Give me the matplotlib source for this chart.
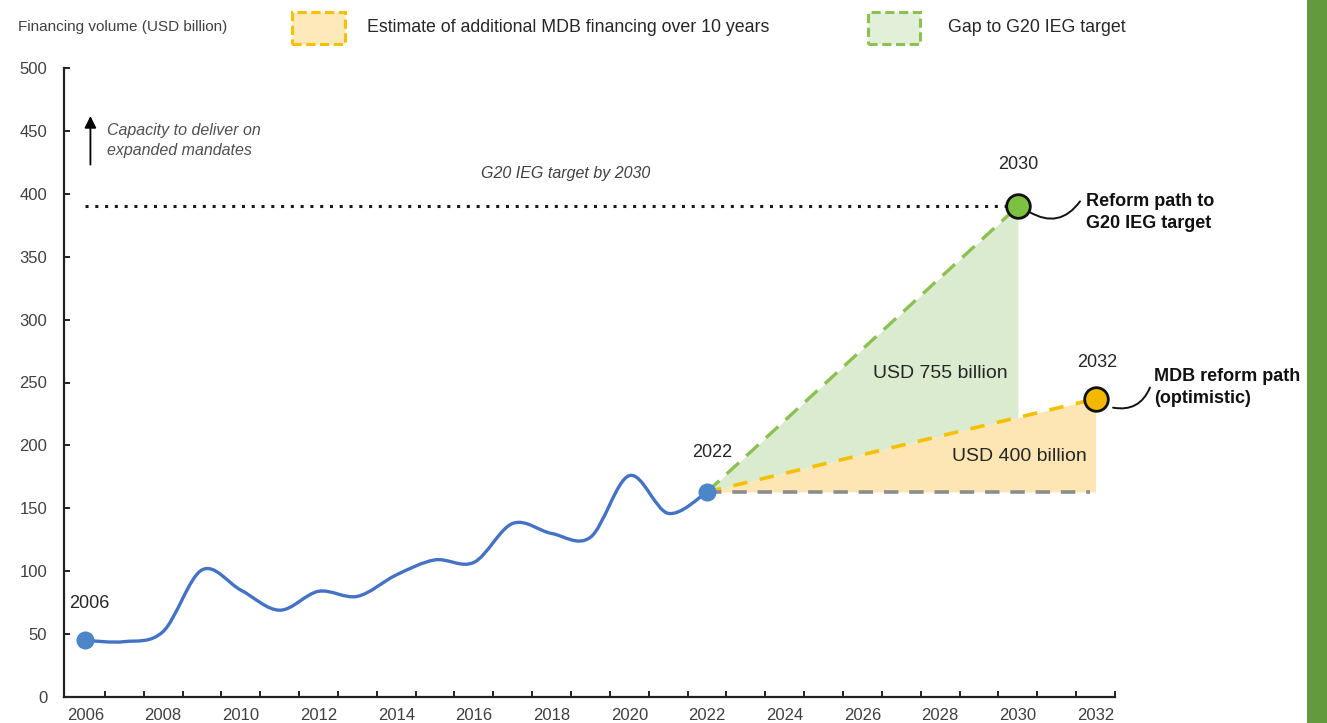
import numpy as np
import matplotlib
matplotlib.use("Agg")
import matplotlib.pyplot as plt
from matplotlib.path import Path
from matplotlib.patches import PathPatch, Rectangle

# historical MDB financing volume (USD billion)
years = list(range(2006, 2023))
financing = [45, 44, 52, 101, 85, 69, 84, 80, 97, 109, 107, 138, 130, 127, 176, 146, 163]

# projected paths
g20_years = [2022, 2030]
g20_values = [163, 390]
mdb_years = [2022, 2032]
mdb_values = [163, 237]
baseline = 163
g20_target = 390

x_tick_years = list(range(2006, 2033, 2))
y_ticks = list(range(0, 501, 50))

FONT = ["Liberation Sans Narrow", "Liberation Sans", "DejaVu Sans"]
plt.rcParams["font.family"] = FONT

BLUE = "#4472c4"
GREEN = "#8cc152"
GREEN_FILL = "#dbebcf"
YELLOW = "#f5c000"
YELLOW_FILL = "#fde6b4"
GREY = "#8c8c8c"
TXT = "#404040"


def smooth_path(xs, ys):
    """Catmull-Rom style cubic bezier path through the points (like Excel smoothed line)."""
    pts = np.column_stack([xs, ys]).astype(float)
    ext = np.vstack([pts[0], pts, pts[-1]])
    verts = [pts[0]]
    codes = [Path.MOVETO]
    for i in range(len(pts) - 1):
        p0, p1, p2, p3 = ext[i], ext[i + 1], ext[i + 2], ext[i + 3]
        c1 = p1 + (p2 - p0) / 6.0
        c2 = p2 - (p3 - p1) / 6.0
        verts += [c1, c2, p2]
        codes += [Path.CURVE4] * 3
    return Path(verts, codes)


fig = plt.figure(figsize=(13.27, 7.23), dpi=100)
ax = fig.add_axes([64 / 1327, 1 - 697 / 723, (1115 - 64) / 1327, (697 - 68) / 723])

ax.set_xlim(2005.45, 2032.5)
ax.set_ylim(0, 500)

# shaded areas
mdb_at_2030 = np.interp(g20_years, mdb_years, mdb_values)
ax.fill_between(g20_years, mdb_at_2030, g20_values, color=GREEN_FILL, lw=0, zorder=1)
ax.fill_between(mdb_years, [baseline, baseline], mdb_values, color=YELLOW_FILL, lw=0, zorder=1)

# target line and projected paths
ax.hlines(g20_target, 2006, g20_years[-1], colors="#1a1a1a", linestyles=(0, (1, 2.2)), lw=2.2, zorder=2)
ax.plot(g20_years, g20_values, color=GREEN, lw=2.4, dashes=(5, 3), zorder=3)
ax.plot(mdb_years, mdb_values, color=YELLOW, lw=2.6, dashes=(4, 3.5), zorder=3)
ax.plot([mdb_years[0], mdb_years[-1] - 0.15], [baseline, baseline], color=GREY, lw=2.6, dashes=(4, 3), zorder=3)

# historical smoothed line
ax.add_patch(PathPatch(smooth_path(years, financing), facecolor="none", edgecolor=BLUE, lw=2.4, zorder=4))
ax.plot([years[0], years[-1]], [financing[0], financing[-1]], "o", color="#4a86c8", ms=13, mec="none", zorder=5)

ax.plot(g20_years[-1], g20_values[-1], "o", color="#7dc142", ms=17, mec="#111111", mew=2.0, zorder=6)
ax.plot(mdb_years[-1], mdb_values[-1], "o", color="#f5b800", ms=17, mec="#111111", mew=2.0, zorder=6)

# axes styling
for s in ["top", "right"]:
    ax.spines[s].set_visible(False)
for s in ["left", "bottom"]:
    ax.spines[s].set_linewidth(1.6)
    ax.spines[s].set_color("#222222")

ax.set_xticks(x_tick_years)
ax.set_xticklabels([str(y) for y in x_tick_years])
ax.set_xticks(np.arange(2006.5, 2033, 1.0), minor=True)
ax.tick_params(axis="x", which="major", length=0, pad=8, labelsize=12, labelcolor=TXT)
ax.tick_params(axis="x", which="minor", length=4, width=1.4, direction="in", color="#222222")
ax.set_yticks(y_ticks)
ax.tick_params(axis="y", length=4, width=1.4, direction="in", pad=12, labelsize=12,
               labelcolor=TXT, color="#222222")

# annotations
ax.text(2006.1, 74, "2006", ha="center", va="center", fontsize=13, color="#262626")
ax.text(2022.13, 194, "2022", ha="center", va="center", fontsize=13, color="#262626")
ax.text(2030, 423, "2030", ha="center", va="center", fontsize=13, color="#262626")
ax.text(2032.03, 266, "2032", ha="center", va="center", fontsize=13, color="#262626")

ax.text(2028.0, 257.5, "USD 755 billion", ha="center", va="center", fontsize=14, color="#262626")
ax.text(2030.05, 191, "USD 400 billion", ha="center", va="center", fontsize=14, color="#262626")

ax.text(2018.35, 416.5, "G20 IEG target by 2030", ha="center", va="center", fontsize=11.5,
        style="italic", color="#404040")

ax.annotate("", xy=(2006.13, 464), xytext=(2006.13, 421),
            arrowprops=dict(arrowstyle="-|>,head_width=0.35,head_length=0.7", color="black", lw=1.3))
ax.text(2006.55, 456, "Capacity to deliver on\nexpanded mandates", ha="left", va="top", fontsize=11.5,
        style="italic", color="#505050", linespacing=1.35)

ax.text(2031.75, 385, "Reform path to\nG20 IEG target", ha="left", va="center", fontsize=13,
        fontweight="bold", color="#111111", linespacing=1.35)
ax.text(2033.5, 246, "MDB reform path\n(optimistic)", ha="left", va="center", fontsize=13,
        fontweight="bold", color="#111111", linespacing=1.35, clip_on=False)

ax.annotate("", xy=(2031.6, 394), xytext=(2030.3, 385.5), annotation_clip=False,
            arrowprops=dict(arrowstyle="-", color="#111111", lw=1.4, shrinkA=0, shrinkB=0,
                            connectionstyle="arc3,rad=0.45"))
ax.annotate("", xy=(2033.4, 246), xytext=(2032.45, 230), annotation_clip=False,
            arrowprops=dict(arrowstyle="-", color="#111111", lw=1.4, shrinkA=0, shrinkB=0,
                            connectionstyle="arc3,rad=0.4"))

# header and legend
fig.text(18 / 1327, 1 - 27 / 723, "Financing volume (USD billion)", ha="left", va="center",
         fontsize=11, color=TXT)

fig.add_artist(Rectangle((292 / 1327, 1 - 44 / 723), 53 / 1327, 32 / 723, transform=fig.transFigure,
                         facecolor="#fde9b9", edgecolor=YELLOW, lw=2.2, linestyle=(0, (3, 1.5))))
fig.text(367 / 1327, 1 - 28 / 723, "Estimate of additional MDB financing over 10 years", ha="left",
         va="center", fontsize=12.8, color="#262626")
fig.add_artist(Rectangle((868 / 1327, 1 - 44 / 723), 52 / 1327, 32 / 723, transform=fig.transFigure,
                         facecolor="#e2efd9", edgecolor=GREEN, lw=2.2, linestyle=(0, (3, 1.5))))
fig.text(948 / 1327, 1 - 28 / 723, "Gap to G20 IEG target", ha="left", va="center",
         fontsize=12.8, color="#262626")

# green side bar
fig.add_artist(Rectangle((1307 / 1327, 0), 20 / 1327, 1, transform=fig.transFigure,
                         facecolor="#639a3e", edgecolor="none"))

fig.savefig("out.png", dpi=100)
